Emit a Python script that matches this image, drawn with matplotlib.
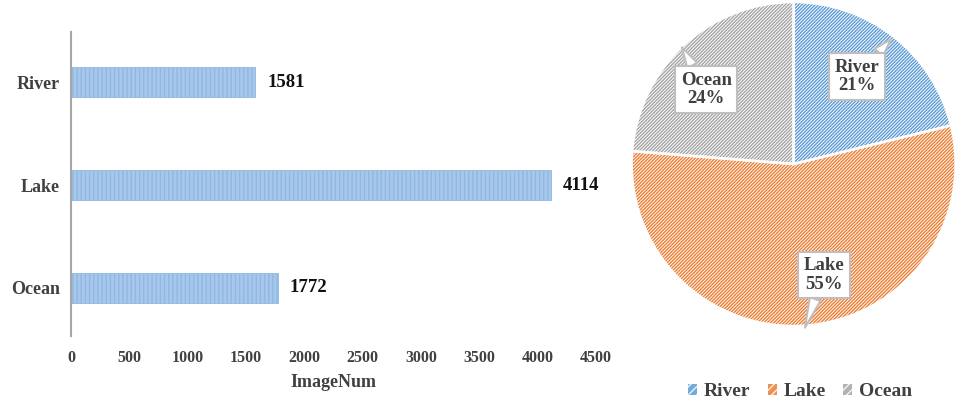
from matplotlib import pyplot as plt
from matplotlib.patches import Patch

categories = ["Ocean", "Lake", "River"]
image_num = [1772, 4114, 1581]

pie_labels = ["River", "Lake", "Ocean"]
pie_values = [1581, 4114, 1772]
pie_colors = ["#5b9bd5", "#ed7d31", "#a5a5a5"]

xticks = [0, 500, 1000, 1500, 2000, 2500, 3000, 3500, 4000, 4500]

plt.rcParams["font.family"] = ["Liberation Serif", "DejaVu Serif"]
plt.rcParams["font.weight"] = "bold"
plt.rcParams["hatch.linewidth"] = 1.0

fig = plt.figure(figsize=(9.57, 4.04), dpi=100)

# bar chart
ax = fig.add_axes([0.0742, 0.168, 0.5486, 0.753])
ypos = list(range(len(categories)))
ax.barh(ypos, image_num, height=0.29, color="#a8c8eb", edgecolor="#8fb8e3",
        hatch="||||", linewidth=0.6)
for y, v in zip(ypos, image_num):
    ax.text(v + 100, y, str(v), va="center", ha="left", fontsize=13.5,
            fontweight="bold", color="#111111")
ax.set_xlim(0, 4500)
ax.set_ylim(-0.47, 2.49)
ax.set_xticks(xticks)
ax.set_xticklabels([str(t) for t in xticks], fontsize=11.5, color="#404040")
ax.set_yticks(ypos)
ax.set_yticklabels(categories, fontsize=13, color="#404040")
ax.tick_params(length=0, pad=8)
ax.tick_params(axis="x", pad=10)
for s in ["top", "right", "bottom"]:
    ax.spines[s].set_visible(False)
ax.spines["left"].set_color("#a6a6a6")
ax.spines["left"].set_linewidth(1.5)
ax.set_xlabel("ImageNum", fontsize=13, fontweight="bold", color="#404040", labelpad=6)

# pie chart
pax = fig.add_axes([0.660, 0.193, 0.3386, 0.802])
wedges, _ = pax.pie(pie_values, startangle=90, counterclock=False,
                    colors=["white"] * 3, radius=1)
for w, c in zip(wedges, pie_colors):
    w.set_edgecolor(c)
    w.set_hatch("//////////")
    w.set_linewidth(0)
pax.pie(pie_values, startangle=90, counterclock=False,
        colors=["none"] * 3, radius=1,
        wedgeprops=dict(edgecolor="white", linewidth=1.8))
pax.set_xlim(-1, 1)
pax.set_ylim(-1, 1)
pax.set_aspect("equal")
pax.axis("off")

total = sum(pie_values)
pcts = [round(100 * v / total) for v in pie_values]
# label positions (data coords), pointer targets
label_xy = [(0.39, 0.54), (0.185, -0.685), (-0.54, 0.46)]
point_xy = [(0.60, 0.77), (0.07, -1.01), (-0.69, 0.72)]
for name, p, lxy, pxy in zip(pie_labels, pcts, label_xy, point_xy):
    pax.annotate(f"{name}\n{p}%", xy=pxy, xytext=lxy, ha="center", va="center",
                 fontsize=13.5, fontweight="bold", color="#404040", linespacing=1.1,
                 annotation_clip=False,
                 bbox=dict(boxstyle="square,pad=0.3", fc="white", ec="#bfbfbf", lw=1.5),
                 arrowprops=dict(arrowstyle="wedge,tail_width=0.6", fc="white",
                                 ec="#bfbfbf", lw=1.5, shrinkA=0, shrinkB=0))

handles = [Patch(facecolor=c, edgecolor="white", hatch="////", linewidth=0, alpha=0.85)
           for c in pie_colors]
fig.legend(handles, pie_labels, loc="center", bbox_to_anchor=(0.836, 0.03),
           ncol=3, frameon=False, fontsize=14, handlelength=0.45, handleheight=0.45,
           handletextpad=0.35, columnspacing=0.9, labelcolor="#404040")

fig.savefig("out.png", dpi=100)
